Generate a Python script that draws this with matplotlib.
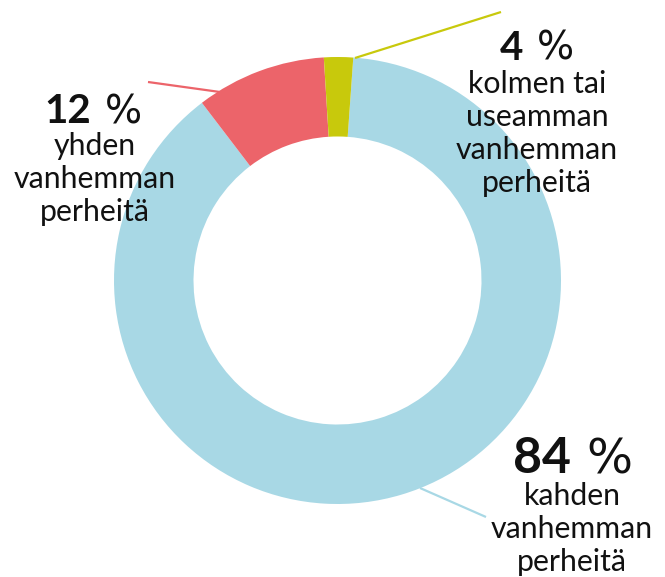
import matplotlib
matplotlib.use("Agg")
import matplotlib.pyplot as plt

W, H = 665, 577

# slice shares as drawn (clockwise from the top), colours, label text
categories = ["kahden vanhemman perheitä", "yhden vanhemman perheitä",
              "kolmen tai useamman vanhemman perheitä"]
shares = [88.5, 9.4, 2.1]
colors = ["#A8D8E5", "#EC646A", "#C8C90C"]
pct_numbers = ["84", "12", "4"]
label_lines = [["kahden", "vanhemman", "perheitä"],
               ["yhden", "vanhemman", "perheitä"],
               ["kolmen tai", "useamman", "vanhemman", "perheitä"]]

plt.rcParams['font.family'] = ['Lato', 'DejaVu Sans']

fig = plt.figure(figsize=(W / 100, H / 100), dpi=100)
ax = fig.add_axes([0, 0, 1, 1])

cx, cy = 337.5, H - 280.5
r_out, r_in = 223.5, 144.0

ax.pie(shares, colors=colors, startangle=85.95, counterclock=False,
       radius=r_out, center=(cx, cy),
       wedgeprops=dict(width=r_out - r_in, linewidth=0, antialiased=True))

ax.set_xlim(0, W)
ax.set_ylim(0, H)
ax.set_aspect('auto')
ax.axis('off')

def py(y):
    return H - y

# leader lines (pixel coords, top-left origin)
leaders = [((420, 488), (486, 517)),
           ((220, 92), (148, 82)),
           ((355, 58), (501, 12))]
for (a, b), c in zip(leaders, colors):
    ax.plot([a[0], b[0]], [py(a[1]), py(b[1])], color=c, lw=1.6,
            solid_capstyle='butt')

# label blocks: (number right edge, % left edge, number baseline, size,
#                text centre x, first line baseline)
blocks = [(571, 586, 473, 36, 572, 505),
          (91, 105, 123, 29, 95, 155),
          (523, 537, 60, 29, 537, 93)]
body_size = 21.8
line_gap = 33

for num, lines, (nx, px_, nb, nsize, tx, b0) in zip(pct_numbers, label_lines, blocks):
    ax.text(nx, py(nb), num, fontsize=nsize, fontweight='bold',
            ha='right', va='baseline', color='#111111')
    ax.text(px_, py(nb), "%", fontsize=nsize * 0.97, family='DejaVu Sans',
            ha='left', va='baseline', color='#111111')
    for i, ln in enumerate(lines):
        ax.text(tx, py(b0 + i * line_gap), ln, fontsize=body_size,
                ha='center', va='baseline', color='#111111')

fig.savefig("out.png", dpi=100)
